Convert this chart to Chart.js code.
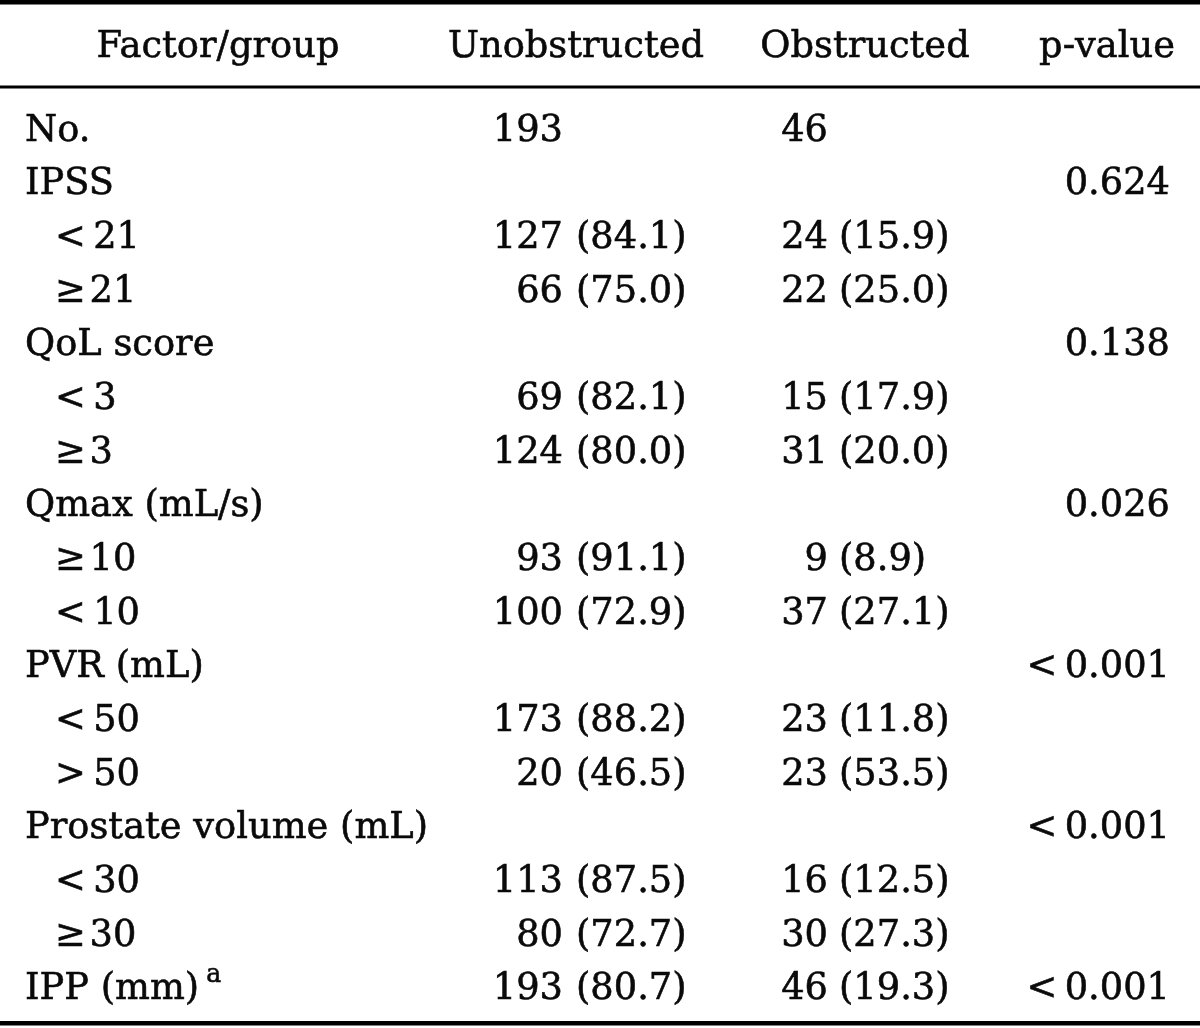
<!DOCTYPE html>
<html>
<head>
<meta charset="utf-8">
<script src="https://cdn.jsdelivr.net/npm/chart.js@4"></script>
<style>
  html, body { margin: 0; padding: 0; background: #fff; }
  #wrap { width: 1200px; height: 1028px; position: relative; }
</style>
</head>
<body>
<div id="wrap"><canvas id="tbl"></canvas></div>
<script>
// table contents, one entry per row
const headers = ['Factor/group', 'Unobstructed', 'Obstructed', 'p-value'];
const rowLabels = ['No.', 'IPSS', '<\u200921', '\u2265\u200A21', 'QoL score', '<\u20093', '\u2265\u200A3', 'Qmax (mL/s)',
    '\u2265\u200A10', '<\u200910', 'PVR (mL)', '<\u200950', '>\u200950', 'Prostate volume (mL)', '<\u200930', '\u2265\u200A30', 'IPP (mm)'];
const rowIndent = [0, 0, 1, 1, 0, 1, 1, 0, 1, 1, 0, 1, 1, 0, 1, 1, 0];
const rowNotes = ['', '', '', '', '', '', '', '', '', '', '', '', '', '', '', '', 'a'];
const unobsN = [193, null, 127, 66, null, 69, 124, null, 93, 100, null, 173, 20, null, 113, 80, 193];
const unobsPct = [null, null, 84.1, 75.0, null, 82.1, 80.0, null, 91.1, 72.9, null, 88.2, 46.5, null, 87.5, 72.7, 80.7];
const obsN = [46, null, 24, 22, null, 15, 31, null, 9, 37, null, 23, 23, null, 16, 30, 46];
const obsPct = [null, null, 15.9, 25.0, null, 17.9, 20.0, null, 8.9, 27.1, null, 11.8, 53.5, null, 12.5, 27.3, 19.3];
const pValues = ['', '0.624', '', '', '0.138', '', '', '0.026', '', '', '<\u20090.001', '', '', '<\u20090.001', '', '', '<\u20090.001'];

// column anchors on the x scale (0..1200)
const COL = { label: 25, indent: 55, unobsNum: 563, unobsParen: 576, obsNum: 828, obsParen: 839, pRight: 1170 };
const HEAD_X = [218, 576, 865, 1175];
const FONT = '38px "DejaVu Serif"';
const SQUEEZE_REF = 243; // width of "Factor/group" in the reference

const tablePlugin = {
    id: 'tableText',
    afterDraw(chart) {
        const ctx = chart.ctx;
        const xs = chart.scales.x, ys = chart.scales.y;
        const W = chart.width;
        ctx.save();
        ctx.font = FONT;
        const sx = SQUEEZE_REF / ctx.measureText(headers[0]).width;

        // draw a string with horizontal squeeze, align = left|right|center
        const txt = (s, x, y, align, font) => {
            ctx.save();
            if (font) ctx.font = font;
            const w = ctx.measureText(s).width * sx;
            let x0 = x;
            if (align === 'right') x0 = x - w;
            else if (align === 'center') x0 = x - w / 2;
            ctx.translate(x0, y);
            ctx.scale(sx, 1);
            ctx.textAlign = 'left';
            ctx.textBaseline = 'alphabetic';
            ctx.fillStyle = '#0a0a0a';
            ctx.strokeStyle = '#0a0a0a';
            ctx.lineWidth = 0.6;
            ctx.fillText(s, 0, 0);
            ctx.strokeText(s, 0, 0);
            ctx.restore();
            return w;
        };

        // rules
        ctx.fillStyle = '#000';
        ctx.fillRect(0, 0, W, 4.5);
        ctx.fillRect(0, 85.5, W, 3);
        ctx.fillRect(0, 1021, W, 4.5);

        // header
        const hb = 57;
        headers.forEach((h, i) => txt(h, xs.getPixelForValue(HEAD_X[i]), hb, i === 3 ? 'right' : 'center'));

        // body
        rowLabels.forEach((lab, i) => {
            const base = ys.getPixelForValue(i) + 13;
            const lx = xs.getPixelForValue(rowIndent[i] ? COL.indent : COL.label);
            const w = txt(lab, lx, base, 'left');
            if (rowNotes[i]) txt(rowNotes[i], lx + w + 7, base - 17, 'left', '26px "DejaVu Serif"');

            const cells = [[unobsN[i], unobsPct[i], COL.unobsNum, COL.unobsParen], [obsN[i], obsPct[i], COL.obsNum, COL.obsParen]];
            cells.forEach(([n, pct, numX, parenX]) => {
                if (n === null) return;
                txt(String(n), xs.getPixelForValue(numX), base, 'right');
                if (pct !== null) txt('(' + pct.toFixed(1) + ')', xs.getPixelForValue(parenX), base, 'left');
            });
            if (pValues[i]) txt(pValues[i], xs.getPixelForValue(COL.pRight), base, 'right');
        });
        ctx.restore();
    }
};

new Chart(document.getElementById('tbl'), {
    type: 'scatter',
    data: { datasets: [] },
    options: {
        responsive: true,
        maintainAspectRatio: false,
        animation: false,
        layout: { padding: { top: 101, bottom: 15, left: 0, right: 0 } },
        plugins: { legend: { display: false }, tooltip: { enabled: false } },
        scales: {
            x: { type: 'linear', min: 0, max: 1200, display: false },
            y: { type: 'category', labels: rowLabels, offset: true, display: false }
        }
    },
    plugins: [tablePlugin]
});
</script>
</body>
</html>
